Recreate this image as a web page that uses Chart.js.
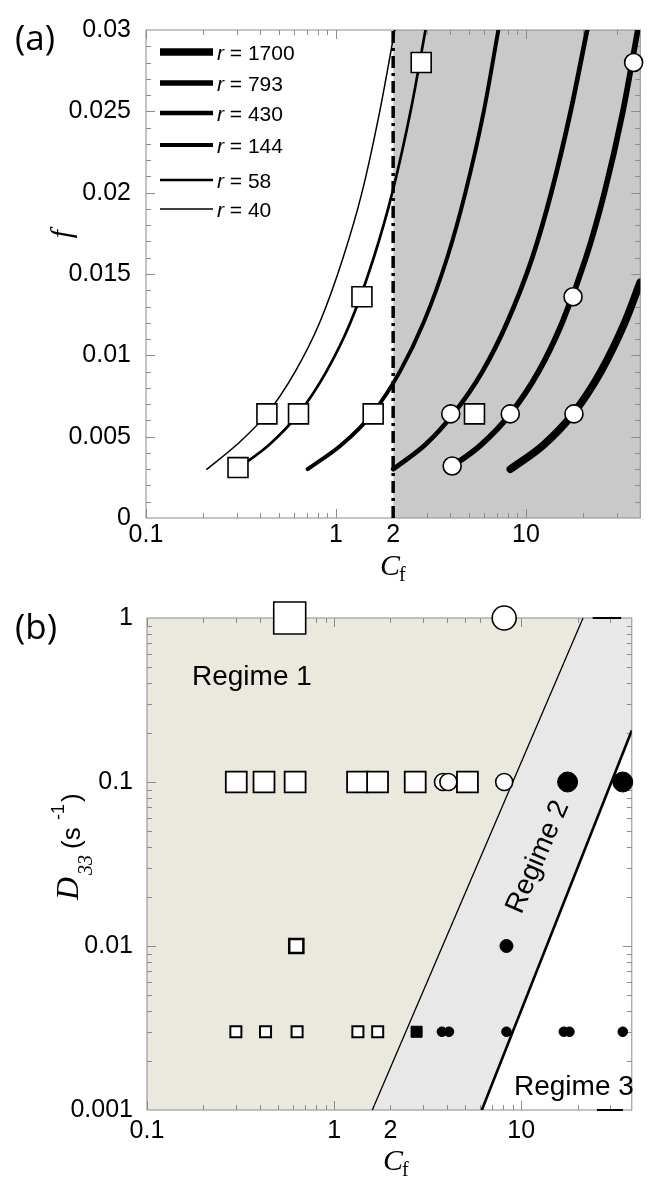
<!DOCTYPE html>
<html>
<head>
<meta charset="utf-8">
<script src="https://cdn.jsdelivr.net/npm/chart.js@4.4.1/dist/chart.umd.min.js"></script>
<style>
  html, body { margin: 0; padding: 0; background: #fff; }
  #wrap { position: relative; width: 656px; height: 1178px; }
  .panel { position: absolute; left: 0; width: 656px; height: 589px; }
</style>
</head>
<body>
<div id="wrap">
  <div class="panel" style="top:0"><canvas id="chartA" width="656" height="589"></canvas></div>
  <div class="panel" style="top:589px"><canvas id="chartB" width="656" height="589"></canvas></div>
</div>
<script>
// ---------- panel (a): f against Cf, one curve per r ----------
const rValues = [40, 58, 144, 430, 793, 1700];
const fSteps = [0.003, 0.0045, 0.0064, 0.009, 0.012, 0.016, 0.02, 0.025, 0.03];
const cfR40  = [0.209, 0.30, 0.433, 0.61, 0.82, 1.09, 1.37, 1.70, 2.04];
const cfR58  = [0.30, 0.445, 0.635, 0.89, 1.19, 1.58, 1.98, 2.47, 2.96];
const cfR144 = [0.71, 1.07, 1.55, 2.17, 2.89, 3.85, 4.80, 6.0, 7.16];
const cfR430 = [2.0, 2.95, 4.15, 5.9, 7.95, 10.8, 13.6, 17.2, 21.0];
const cfR793 = [3.9, 5.8, 8.27, 11.65, 15.5, 20.7, 25.9, 32.4, 38.8];
const fR1700  = [0.003, 0.0045, 0.0064, 0.009, 0.012, 0.0145];
const cfR1700 = [8.28, 12.4, 17.7, 24.8, 33.1, 40];

// open markers on panel (a)
const sqCfA = [0.305, 0.433, 0.635, 1.37, 1.57, 2.81, 5.36];
const sqFA  = [0.0031, 0.0064, 0.0064, 0.0136, 0.0064, 0.028, 0.0064];
const ciCfA = [4.02, 4.09, 8.27, 17.7, 17.9, 36.9];
const ciFA  = [0.0064, 0.0032, 0.0064, 0.0136, 0.0064, 0.028];

const shadeCfA = [2, 40];   // grey band starts at Cf = 2
const fRange = [0, 0.03];

// ---------- panel (b): D33 against Cf ----------
const cfSqD1 = [0.579];
const cfCiD1 = [8.11];
const cfSqD01 = [0.30, 0.422, 0.619, 1.335, 1.707, 2.713, 5.16];
const cfCiD01 = [3.82, 4.08, 8.11];
const cfDotD01 = [17.7, 34.9];
const cfSqD001 = [0.628];
const cfDotD001 = [8.34];
const cfSqD0003 = [0.2985, 0.43, 0.634, 1.34, 1.71];
const cfBlockD0003 = [2.76];
const cfDotD0003 = [3.77, 4.11, 8.34, 16.9, 18.1, 34.9];

const bound1Cf = [1.6, 21.4], bound1D = [0.001, 1];
const bound2Cf = [6.16, 39], bound2D = [0.001, 0.206];
const topBarCf = [24.1, 34.2], bottomBarCf = [25.4, 35.0];

// ticks
const xLabelVals = [0.1, 1, 2, 10];
const xMajor = [0.1, 1, 10];
const xMinor = [0.2, 0.3, 0.4, 0.5, 0.6, 0.7, 0.8, 0.9, 2, 3, 4, 5, 6, 7, 8, 9, 20, 30];
const fLabelVals = [0, 0.005, 0.01, 0.015, 0.02, 0.025, 0.03];
const fMinor = [0.001, 0.002, 0.003, 0.004, 0.006, 0.007, 0.008, 0.009, 0.011, 0.012, 0.013, 0.014,
  0.016, 0.017, 0.018, 0.019, 0.021, 0.022, 0.023, 0.024, 0.026, 0.027, 0.028, 0.029];
const dLabelVals = [0.001, 0.01, 0.1, 1];
const dMinor = [0.002, 0.003, 0.004, 0.005, 0.006, 0.007, 0.008, 0.009, 0.02, 0.03, 0.04, 0.05,
  0.06, 0.07, 0.08, 0.09, 0.2, 0.3, 0.4, 0.5, 0.6, 0.7, 0.8, 0.9];

const pts = (xs, ys) => xs.map((x, i) => ({ x, y: ys[i] }));
const row = (xs, d) => xs.map(x => ({ x, y: d }));

const TICK_FONT = { family: 'Liberation Sans', size: 25 };
const FRAME = '#8c8c8c';

function framePlugin(afterIndex, yMajor, yMinor) {
  return {
    id: 'frame',
    afterDatasetDraw(chart, args) {
      if (args.index !== afterIndex) return;
      const { ctx, chartArea: a } = chart;
      const sx = chart.scales.x, sy = chart.scales.y;
      ctx.save();
      ctx.strokeStyle = FRAME;
      ctx.lineWidth = 1;
      ctx.beginPath();
      const tx = (vals, len) => vals.forEach(v => {
        const p = Math.round(sx.getPixelForValue(v)) + 0.5;
        ctx.moveTo(p, a.bottom); ctx.lineTo(p, a.bottom - len);
        ctx.moveTo(p, a.top); ctx.lineTo(p, a.top + len);
      });
      const ty = (vals, len) => vals.forEach(v => {
        const p = Math.round(sy.getPixelForValue(v)) + 0.5;
        ctx.moveTo(a.left, p); ctx.lineTo(a.left + len, p);
        ctx.moveTo(a.right, p); ctx.lineTo(a.right - len, p);
      });
      tx(xMajor, 9); tx(xMinor, 5);
      ty(yMajor, 9); ty(yMinor, 5);
      ctx.stroke();
      ctx.strokeRect(a.left, a.top, a.right - a.left, a.bottom - a.top);
      ctx.restore();
    }
  };
}

function drawCf(ctx, x, base) {
  ctx.textAlign = 'left';
  ctx.textBaseline = 'alphabetic';
  ctx.font = 'italic 30px "Liberation Serif"';
  ctx.fillText('C', x, base);
  const w = ctx.measureText('C').width;
  ctx.font = '20px "Liberation Serif"';
  ctx.fillText('f', x + w - 1, base + 6);
}

function line(data, width, extra) {
  return Object.assign({ data, showLine: true, borderColor: '#000', borderWidth: width,
    pointRadius: 0, fill: false, order: 4 }, extra || {});
}
function marker(data, style, r, bg, bw) {
  return { data, showLine: false, pointStyle: style, pointRadius: r, pointBackgroundColor: bg,
    pointBorderColor: '#000', pointBorderWidth: bw, clip: false, order: 1 };
}

function axisX(max, pad, h) {
  return {
    type: 'logarithmic', min: 0.1, max,
    grid: { display: false, drawTicks: false }, border: { display: false },
    afterBuildTicks: s => { s.ticks = xLabelVals.map(v => ({ value: v })); },
    afterFit: s => { s.height = h; },
    ticks: { autoSkip: false, maxRotation: 0, padding: pad, color: '#000', font: TICK_FONT,
      callback: v => String(v) }
  };
}

// ---------- chart (a) ----------
const curveData = [[cfR40, fSteps], [cfR58, fSteps], [cfR144, fSteps], [cfR430, fSteps], [cfR793, fSteps], [cfR1700, fR1700]];
const curveWidths = [1.5, 2.7, 4, 4.7, 5.7, 7.7];
const legendRowsY = [52, 83, 113, 145, 180, 209];

new Chart(document.getElementById('chartA'), {
  type: 'scatter',
  data: {
    datasets: [
      { data: row(shadeCfA, fRange[1]), showLine: true, fill: 'start', backgroundColor: '#c9c9c9',
        borderColor: 'rgba(0,0,0,0)', borderWidth: 0, pointRadius: 0, order: 10 },
      line(fRange.map(f => ({ x: shadeCfA[0], y: f })), 3.5, { borderDash: [12, 5, 3, 5], order: 5 }),
      ...curveData.map((c, i) => line(pts(c[0], c[1]), curveWidths[i],
        { cubicInterpolationMode: 'monotone', borderCapStyle: 'round' })),
      marker(pts(sqCfA, sqFA), 'rect', 14.1, '#fff', 1.6),
      marker(pts(ciCfA, ciFA), 'circle', 9, '#fff', 1.6)
    ]
  },
  options: {
    responsive: false, animation: false, events: [],
    layout: { padding: { left: 0, right: 13.3, top: 22, bottom: 0 } },
    plugins: { legend: { display: false }, tooltip: { enabled: false } },
    scales: {
      x: axisX(40, 2, 71),
      y: {
        type: 'linear', min: fRange[0], max: fRange[1],
        grid: { display: false, drawTicks: false }, border: { display: false },
        afterBuildTicks: s => { s.ticks = fLabelVals.map(v => ({ value: v })); },
        afterFit: s => { s.width = 146; },
        ticks: { padding: 15, color: '#000', font: TICK_FONT, callback: v => String(v) }
      }
    }
  },
  plugins: [
    framePlugin(0, [0.005, 0.01, 0.015, 0.02, 0.025], fMinor),
    {
      id: 'textA',
      afterDraw(chart) {
        const ctx = chart.ctx;
        ctx.save();
        ctx.fillStyle = '#000';
        ctx.textBaseline = 'alphabetic';
        ctx.font = '35px "Open Sans"';
        ctx.fillText('(a)', 15, 50);
        // legend
        const order = [5, 4, 3, 2, 1, 0];
        order.forEach((k, i) => {
          const y = legendRowsY[i];
          ctx.strokeStyle = '#000';
          ctx.lineWidth = curveWidths[k];
          ctx.beginPath(); ctx.moveTo(160, y); ctx.lineTo(213, y); ctx.stroke();
          ctx.font = 'italic 21px "Liberation Sans"';
          ctx.fillText('r', 217, y + 8);
          const w = ctx.measureText('r').width;
          ctx.font = '21px "Liberation Sans"';
          ctx.fillText(' = ' + rValues[k], 217 + w, y + 8);
        });
        drawCf(ctx, 380, 575);
        ctx.translate(63, 234);
        ctx.rotate(-Math.PI / 2);
        ctx.font = 'italic 30px "Liberation Serif"';
        ctx.textAlign = 'center';
        ctx.textBaseline = 'middle';
        ctx.fillText('f', 0, 0);
        ctx.restore();
      }
    }
  ]
});

// ---------- chart (b) ----------
new Chart(document.getElementById('chartB'), {
  type: 'scatter',
  data: {
    datasets: [
      { data: [{ x: 0.1, y: 0.001 }, ...pts(bound1Cf, bound1D)], showLine: true, fill: 'end',
        backgroundColor: '#ebe8de', borderColor: 'rgba(0,0,0,0)', borderWidth: 0, pointRadius: 0, order: 10 },
      { data: [{ x: 0.1, y: 0.001 }, ...pts(bound2Cf, bound2D)], showLine: true, fill: 'end',
        backgroundColor: '#e8e8e8', borderColor: 'rgba(0,0,0,0)', borderWidth: 0, pointRadius: 0, order: 11 },
      line(pts(bound1Cf, bound1D), 1.3),
      line(pts(bound2Cf, bound2D), 2.6),
      line(row(topBarCf, 1), 2, { clip: false }),
      line(row(bottomBarCf, 0.001), 2, { clip: false }),
      marker(row(cfSqD1, 1), 'rect', 22.6, '#fff', 1.6),
      marker(row(cfCiD1, 1), 'circle', 12, '#fff', 1.6),
      marker(row(cfSqD01, 0.1), 'rect', 14.8, '#fff', 1.8),
      marker(row(cfCiD01, 0.1), 'circle', 8.5, '#fff', 1.6),
      marker(row(cfDotD01, 0.1), 'circle', 10, '#000', 1),
      marker(row(cfSqD001, 0.01), 'rect', 10, '#fff', 2.5),
      marker(row(cfDotD001, 0.01), 'circle', 6.5, '#000', 1),
      marker(row(cfSqD0003, 0.003), 'rect', 7.8, '#fff', 2),
      marker(row(cfBlockD0003, 0.003), 'rect', 7.8, '#000', 1),
      marker(row(cfDotD0003, 0.003), 'circle', 4.8, '#000', 1)
    ]
  },
  options: {
    responsive: false, animation: false, events: [],
    layout: { padding: { left: 0, right: 12, top: 24, bottom: 0 } },
    plugins: { legend: { display: false }, tooltip: { enabled: false } },
    scales: {
      x: axisX(39, 6, 68),
      y: {
        type: 'logarithmic', min: 0.001, max: 1,
        grid: { display: false, drawTicks: false }, border: { display: false },
        afterBuildTicks: s => { s.ticks = dLabelVals.map(v => ({ value: v })); },
        afterFit: s => { s.width = 147; },
        ticks: { padding: 14, color: '#000', font: TICK_FONT, callback: v => String(v) }
      }
    }
  },
  plugins: [
    framePlugin(0, [0.01, 0.1], dMinor),
    {
      id: 'textB',
      afterDraw(chart) {
        const ctx = chart.ctx;
        ctx.save();
        ctx.fillStyle = '#000';
        ctx.textBaseline = 'alphabetic';
        ctx.font = '35px "Open Sans"';
        ctx.fillText('(b)', 15, 50);
        ctx.font = '28px "Liberation Sans"';
        ctx.fillText('Regime 1', 192, 96);
        ctx.fillText('Regime 3', 514, 506);
        ctx.save();
        ctx.translate(538, 268);
        ctx.rotate(-66.5 * Math.PI / 180);
        ctx.textAlign = 'center';
        ctx.textBaseline = 'middle';
        ctx.fillText('Regime 2', 0, 0);
        ctx.restore();
        drawCf(ctx, 383, 581);
        // y title D33 (s^-1)
        ctx.translate(78, 311);
        ctx.rotate(-Math.PI / 2);
        ctx.textAlign = 'left';
        ctx.font = 'italic 32px "Liberation Serif"';
        ctx.fillText('D', 0, 0);
        ctx.font = 'italic 20px "Liberation Serif"';
        ctx.fillText('33', 25, 14);
        ctx.font = '26px "Liberation Sans"';
        ctx.fillText('(s', 51, 2);
        ctx.font = '18px "Liberation Sans"';
        ctx.fillText('-1', 80, -14);
        ctx.font = '26px "Liberation Sans"';
        ctx.fillText(')', 98, 2);
        ctx.restore();
      }
    }
  ]
});
</script>
</body>
</html>
